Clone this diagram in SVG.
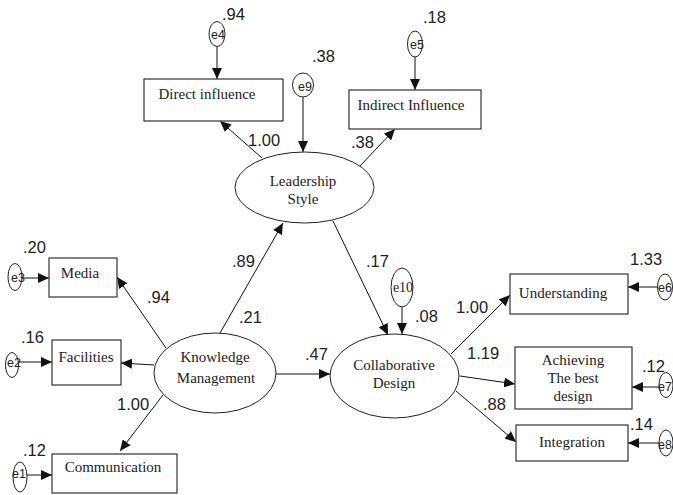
<svg xmlns="http://www.w3.org/2000/svg" width="673" height="495" viewBox="0 0 673 495">
<style>
.box{fill:#fff;stroke:#333;stroke-width:1.2}
.ell{fill:#fff;stroke:#222;stroke-width:1}
.lbl{font-family:"Liberation Serif","Times New Roman",serif;font-size:15px;fill:#222;text-anchor:middle}
.num{font-family:"Liberation Sans",Arial,sans-serif;font-size:16.5px;fill:#222}
.err{font-family:"Liberation Sans",Arial,sans-serif;font-size:12.5px;fill:#222;text-anchor:middle}
.errs{font-family:"Liberation Serif","Times New Roman",serif;font-size:14px;fill:#222;text-anchor:middle}
.con line{stroke:#111;stroke-width:1;marker-end:url(#ah)}
</style>
<defs>
<marker id="ah" markerUnits="userSpaceOnUse" markerWidth="12" markerHeight="10" refX="11" refY="5" orient="auto">
<path d="M0,0 L11,5 L0,10 Z" fill="#111"/>
</marker>
</defs>
<rect width="673" height="495" fill="#fff"/>

<g id="connectors" class="con">
<line x1="217" y1="47" x2="217" y2="79"/>
<line x1="303" y1="97" x2="303" y2="152"/>
<line x1="415" y1="57" x2="415" y2="90"/>
<line x1="262" y1="158" x2="220" y2="121"/>
<line x1="360" y1="166" x2="395" y2="129"/>
<line x1="220" y1="333" x2="283" y2="223"/>
<line x1="333" y1="221" x2="388" y2="335"/>
<line x1="402" y1="307" x2="402" y2="334"/>
<line x1="276" y1="374" x2="330" y2="374"/>
<line x1="166" y1="348" x2="117" y2="277"/>
<line x1="154" y1="365" x2="121" y2="363"/>
<line x1="163" y1="395" x2="120" y2="451"/>
<line x1="22" y1="278" x2="49" y2="278"/>
<line x1="18" y1="362" x2="52" y2="362"/>
<line x1="26" y1="475" x2="52" y2="475"/>
<line x1="451" y1="354" x2="510" y2="295"/>
<line x1="460" y1="376" x2="515" y2="384"/>
<line x1="456" y1="391" x2="516" y2="442"/>
<line x1="658" y1="287" x2="628" y2="287"/>
<line x1="659" y1="387" x2="632" y2="387"/>
<line x1="659" y1="443" x2="628" y2="443"/>
</g>

<g id="direct">
<rect class="box" x="144" y="79" width="139" height="42"/>
<text class="lbl" x="207" y="99">Direct influence</text>
</g>
<g id="indirect">
<rect class="box" x="349" y="90" width="132" height="39"/>
<text class="lbl" x="411" y="110">Indirect Influence</text>
</g>
<g id="media">
<rect class="box" x="49" y="258" width="68" height="39"/>
<text class="lbl" x="80" y="278">Media</text>
</g>
<g id="facilities">
<rect class="box" x="52" y="340" width="69" height="45"/>
<text class="lbl" x="86" y="362">Facilities</text>
</g>
<g id="communication">
<rect class="box" x="52" y="454" width="125" height="39"/>
<text class="lbl" x="113" y="472">Communication</text>
</g>
<g id="understanding">
<rect class="box" x="510" y="274" width="118" height="40"/>
<text class="lbl" x="563" y="298">Understanding</text>
</g>
<g id="achieving">
<rect class="box" x="515" y="347" width="117" height="62"/>
<text class="lbl" x="573" y="365">Achieving</text>
<text class="lbl" x="573" y="383">The best</text>
<text class="lbl" x="573" y="401">design</text>
</g>
<g id="integration">
<rect class="box" x="516" y="425" width="112" height="36"/>
<text class="lbl" x="572" y="447">Integration</text>
</g>

<g id="leadership">
<ellipse class="ell" cx="304.5" cy="187.5" rx="69.5" ry="35.5"/>
<text class="lbl" x="303" y="186">Leadership</text>
<text class="lbl" x="303" y="204">Style</text>
</g>
<g id="knowledge">
<ellipse class="ell" cx="215" cy="373" rx="61" ry="40"/>
<text class="lbl" x="215" y="362">Knowledge</text>
<text class="lbl" x="216" y="383">Management</text>
</g>
<g id="collaborative">
<ellipse class="ell" cx="394.5" cy="376" rx="64.5" ry="42"/>
<text class="lbl" x="394" y="370">Collaborative</text>
<text class="lbl" x="394" y="388">Design</text>
</g>

<g id="e4"><ellipse class="ell" cx="217" cy="34" rx="8" ry="12.5"/><text class="err" x="218" y="39">e4</text></g>
<g id="e9"><ellipse class="ell" cx="303" cy="85" rx="10.5" ry="12"/><text class="err" x="305" y="91">e9</text></g>
<g id="e5"><ellipse class="ell" cx="415" cy="44" rx="7.5" ry="13"/><text class="err" x="417" y="49">e5</text></g>
<g id="e3"><ellipse class="ell" cx="15" cy="277" rx="7" ry="13.5"/><text class="err" x="18" y="282">e3</text></g>
<g id="e2"><ellipse class="ell" cx="12" cy="365" rx="6.5" ry="12.5"/><text class="err" x="14" y="367">e2</text></g>
<g id="e1"><ellipse class="ell" cx="20" cy="477" rx="7" ry="15"/><text class="err" x="19" y="478">e1</text></g>
<g id="e10"><ellipse class="ell" cx="402" cy="287.5" rx="11" ry="19.5"/><text class="errs" x="403" y="292">e10</text></g>
<g id="e6"><ellipse class="ell" cx="665" cy="287" rx="7.5" ry="13"/><text class="err" x="665" y="292">e6</text></g>
<g id="e7"><ellipse class="ell" cx="666" cy="385" rx="7" ry="12.5"/><text class="err" x="665" y="391">e7</text></g>
<g id="e8"><ellipse class="ell" cx="666" cy="443" rx="7" ry="13"/><text class="err" x="665" y="449">e8</text></g>

<g id="labels">
<text class="num" x="222" y="20">.94</text>
<text class="num" x="312" y="62">.38</text>
<text class="num" x="248" y="146">1.00</text>
<text class="num" x="423" y="23">.18</text>
<text class="num" x="351" y="148">.38</text>
<text class="num" x="23" y="253">.20</text>
<text class="num" x="147" y="303">.94</text>
<text class="num" x="21" y="343">.16</text>
<text class="num" x="232" y="267">.89</text>
<text class="num" x="239" y="323">.21</text>
<text class="num" x="117" y="410">1.00</text>
<text class="num" x="23" y="456">.12</text>
<text class="num" x="305" y="360">.47</text>
<text class="num" x="366" y="267">.17</text>
<text class="num" x="415" y="322">.08</text>
<text class="num" x="630" y="265">1.33</text>
<text class="num" x="456" y="313">1.00</text>
<text class="num" x="467" y="359">1.19</text>
<text class="num" x="642" y="372">.12</text>
<text class="num" x="483" y="410">.88</text>
<text class="num" x="630" y="430">.14</text>
</g>
</svg>
